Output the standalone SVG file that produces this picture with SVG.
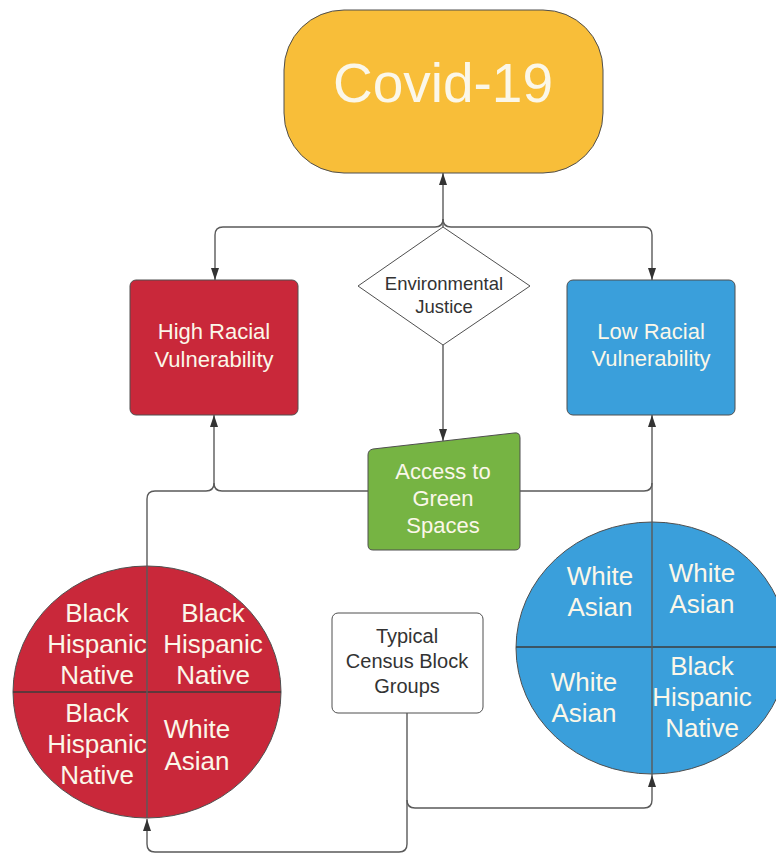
<svg xmlns="http://www.w3.org/2000/svg" width="776" height="854" viewBox="0 0 776 854">
<defs>
<style>
.lbl{font-family:"Liberation Sans",Arial,sans-serif;text-anchor:middle}
.lt{fill:#FBF7E9}
.dk{fill:#333333}
.edge{fill:none;stroke:#5a5a5a;stroke-width:1.4}
.shape{stroke:#4f4f4f;stroke-width:1}
.div{stroke:#3d3d3d;stroke-width:1.3}
</style>
<marker id="arr" viewBox="0 0 12 8" refX="12" refY="4" markerWidth="12" markerHeight="8" markerUnits="userSpaceOnUse" orient="auto">
<path d="M0,0 L12,4 L0,8 Z" fill="#333333"/>
</marker>
</defs>
<rect width="776" height="854" fill="#ffffff"/>

<g id="covid">
<rect class="shape" x="284" y="10" width="319" height="163" rx="60" ry="60" fill="#F8BE39"/>
<text class="lbl lt" x="443" y="102" font-size="55">Covid-19</text>
</g>

<g id="high-racial">
<rect class="shape" x="130" y="280" width="168" height="135" rx="6" fill="#C9283A"/>
<text class="lbl lt" x="214" y="339" font-size="22">High Racial</text>
<text class="lbl lt" x="214" y="367" font-size="22">Vulnerability</text>
</g>

<g id="low-racial">
<rect class="shape" x="567" y="280" width="168" height="135" rx="6" fill="#3A9FDB"/>
<text class="lbl lt" x="651" y="339" font-size="22">Low Racial</text>
<text class="lbl lt" x="651" y="366" font-size="22">Vulnerability</text>
</g>

<g id="environmental-justice">
<polygon class="shape" points="443,227 530,286 443,345 358,286" fill="#ffffff" stroke-linejoin="round"/>
<text class="lbl dk" x="444" y="290" font-size="18.5">Environmental</text>
<text class="lbl dk" x="444" y="313" font-size="18.5">Justice</text>
</g>

<g id="green-spaces">
<path class="shape" d="M368,455 Q368,450 373,449 L514,433 Q520,432 520,438 V545 Q520,550 515,550 H373 Q368,550 368,545 Z" fill="#76B443"/>
<text class="lbl lt" x="443" y="479" font-size="22">Access to</text>
<text class="lbl lt" x="443" y="506" font-size="22">Green</text>
<text class="lbl lt" x="443" y="533" font-size="22">Spaces</text>
</g>

<g id="census">
<rect class="shape" x="332" y="613" width="151" height="100" rx="6" fill="#ffffff"/>
<text class="lbl dk" x="407" y="643" font-size="20">Typical</text>
<text class="lbl dk" x="407" y="668" font-size="20">Census Block</text>
<text class="lbl dk" x="407" y="693" font-size="20">Groups</text>
</g>

<g id="high-circle">
<ellipse class="shape" cx="147" cy="692" rx="134" ry="126" fill="#C9283A"/>
<line class="div" x1="13" y1="692" x2="281" y2="692"/>
<g class="lbl lt" font-size="26">
<text x="97" y="622">Black</text>
<text x="97" y="653">Hispanic</text>
<text x="97" y="684">Native</text>
<text x="213" y="622">Black</text>
<text x="213" y="653">Hispanic</text>
<text x="213" y="684">Native</text>
<text x="97" y="722">Black</text>
<text x="97" y="753">Hispanic</text>
<text x="97" y="784">Native</text>
<text x="197" y="738">White</text>
<text x="197" y="770">Asian</text>
</g>
</g>

<g id="low-circle">
<ellipse class="shape" cx="652" cy="648" rx="136" ry="126" fill="#3A9FDB"/>
<line class="div" x1="516" y1="647" x2="776" y2="647"/>
<g class="lbl lt" font-size="26">
<text x="600" y="585">White</text>
<text x="600" y="616">Asian</text>
<text x="702" y="582">White</text>
<text x="702" y="613">Asian</text>
<text x="584" y="691">White</text>
<text x="584" y="722">Asian</text>
<text x="702" y="675">Black</text>
<text x="702" y="706">Hispanic</text>
<text x="702" y="737">Native</text>
</g>
</g>

<g id="connectors">
<path class="edge" d="M443,227 V173" marker-end="url(#arr)"/>
<path class="edge" d="M443,219 Q443,227 435,227 H223 Q215,227 215,235 V280" marker-end="url(#arr)"/>
<path class="edge" d="M443,219 Q443,227 451,227 H644 Q652,227 652,235 V280" marker-end="url(#arr)"/>
<path class="edge" d="M443,345 V441" marker-end="url(#arr)"/>
<path class="edge" d="M147,818 V499 Q147,491 155,491 H206 Q214,491 214,483 V415" marker-end="url(#arr)"/>
<path class="edge" d="M368,491 H222 Q214,491 214,483"/>
<path class="edge" d="M520,491 H644 Q652,491 652,483"/>
<path class="edge" d="M652,522 V415" marker-end="url(#arr)"/>
<path class="edge" d="M652,775 V522"/>
<path class="edge" d="M407,713 V844 Q407,852 399,852 H155 Q147,852 147,844 V819" marker-end="url(#arr)"/>
<path class="edge" d="M407,800 Q407,808 415,808 H644 Q652,808 652,800 V775" marker-end="url(#arr)"/>
</g>
</svg>
